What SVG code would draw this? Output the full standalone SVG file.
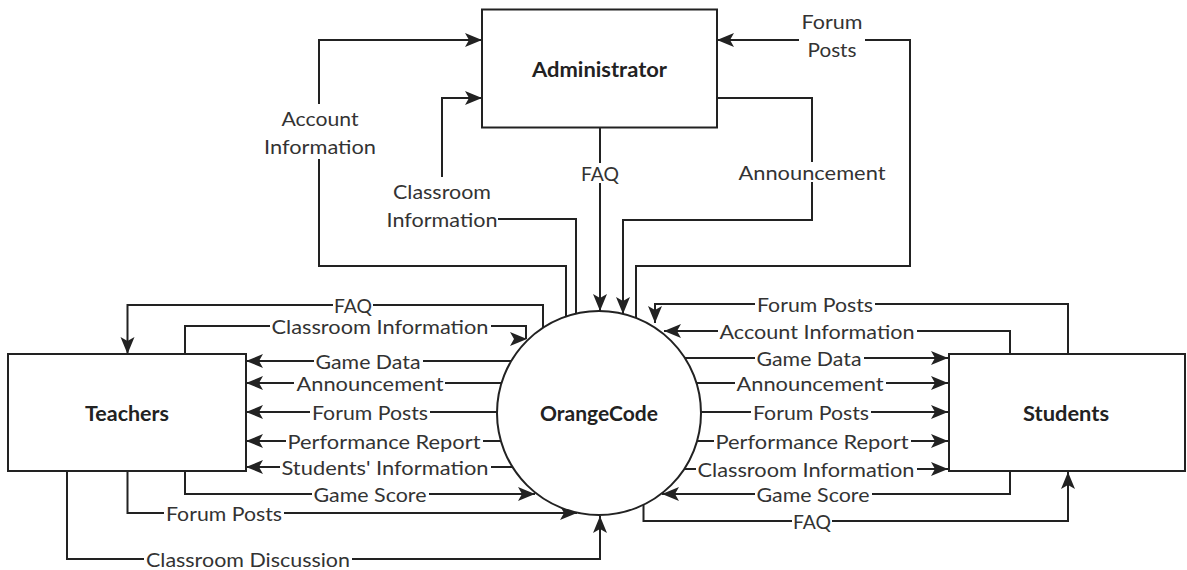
<svg xmlns="http://www.w3.org/2000/svg" xmlns:xlink="http://www.w3.org/1999/xlink" width="1187" height="570" viewBox="0 0 1187 570">
  <style>
    .box { fill: #ffffff; stroke: #222222; stroke-width: 2; }
    .node-label { font-family: Lato, "Liberation Sans", sans-serif; font-size: 20px; font-weight: bold; fill: #222222; text-anchor: middle; dominant-baseline: central; }
    .flow { fill: none; stroke: #222222; stroke-width: 2; marker-end: url(#arrow); }
    .flow-plain { fill: none; stroke: #222222; stroke-width: 2; }
    .lbl-bg { fill: #ffffff; }
    .lbl { font-family: Lato, "Liberation Sans", sans-serif; font-size: 19px; fill: #333333; text-anchor: middle; dominant-baseline: central; }
  </style>
  <defs>
    <marker id="arrow" markerUnits="userSpaceOnUse" markerWidth="18" markerHeight="16" viewBox="0 0 18 16" refX="17" refY="8" orient="auto">
      <path d="M0,1 L17,8 L0,15 L4,8 Z" fill="#222222"/>
    </marker>
    <path id="arrowhead" d="M0,0 L-17,-7 L-13,0 L-17,7 Z" fill="#222222"/>
  </defs>

  <rect width="1187" height="570" fill="#ffffff"/>

  <!-- data flows -->
  <g id="connectors">
    <!-- OrangeCode <-> Administrator -->
    <path class="flow" d="M566,317 V266 H319 V40 H482"/>
    <path class="flow" d="M576,314 V219 H442 V98 H482"/>
    <path class="flow" d="M600,128 V311"/>
    <path class="flow" d="M717,98 H812 V220 H623 V314"/>
    <path class="flow" d="M636,318 V266 H910 V40 H717"/>

    <!-- OrangeCode <-> Teachers -->
    <path class="flow" d="M543,328 V305 H127.5 V354"/>
    <path class="flow-plain" d="M185,354 V326 H526 V339"/>
    <use xlink:href="#arrowhead" transform="translate(527,339)"/>
    <path class="flow" d="M511,361 H246"/>
    <path class="flow" d="M501,383 H246"/>
    <path class="flow" d="M497,412 H246"/>
    <path class="flow" d="M501,441 H246"/>
    <path class="flow" d="M512,467 H246"/>
    <path class="flow" d="M185,471 V494 H535"/>
    <path class="flow" d="M127.5,471 V513 H577"/>
    <path class="flow" d="M67,471 V559 H600 V516"/>

    <!-- OrangeCode <-> Students -->
    <path class="flow" d="M1068,354 V304 H655 V323"/>
    <path class="flow" d="M1010,354 V331 H664"/>
    <path class="flow" d="M685,358 H948"/>
    <path class="flow" d="M696,383 H948"/>
    <path class="flow" d="M701,412 H948"/>
    <path class="flow" d="M697,441 H948"/>
    <path class="flow" d="M684,469 H948"/>
    <path class="flow" d="M1010,471 V494 H662"/>
    <path class="flow" d="M643.5,505 V521 H1068 V472"/>

    <!-- flow labels -->
    <g id="flow-labels">
      <rect class="lbl-bg" x="262" y="104" width="116" height="55"/>
      <text class="lbl" x="320" y="118" textLength="77" lengthAdjust="spacingAndGlyphs">Account</text>
      <text class="lbl" x="320" y="146" textLength="112" lengthAdjust="spacingAndGlyphs">Information</text>

      <rect class="lbl-bg" x="386" y="177" width="112" height="55"/>
      <text class="lbl" x="442" y="191" textLength="98" lengthAdjust="spacingAndGlyphs">Classroom</text>
      <text class="lbl" x="442" y="219" textLength="111" lengthAdjust="spacingAndGlyphs">Information</text>

      <rect class="lbl-bg" x="580" y="163" width="40" height="20"/>
      <text class="lbl" x="600" y="173" textLength="38" lengthAdjust="spacingAndGlyphs">FAQ</text>

      <rect class="lbl-bg" x="737" y="162" width="151" height="20"/>
      <text class="lbl" x="812" y="172" textLength="147" lengthAdjust="spacingAndGlyphs">Announcement</text>

      <rect class="lbl-bg" x="799" y="9" width="66" height="53"/>
      <text class="lbl" x="832" y="21" textLength="61" lengthAdjust="spacingAndGlyphs">Forum</text>
      <text class="lbl" x="832" y="49" textLength="49" lengthAdjust="spacingAndGlyphs">Posts</text>

      <!-- Teachers side -->
      <rect class="lbl-bg" x="333" y="296" width="40" height="18"/>
      <text class="lbl" x="353" y="305" textLength="38" lengthAdjust="spacingAndGlyphs">FAQ</text>
      <rect class="lbl-bg" x="270" y="317" width="221" height="18"/>
      <text class="lbl" x="380" y="326" textLength="217" lengthAdjust="spacingAndGlyphs">Classroom Information</text>
      <rect class="lbl-bg" x="314" y="352" width="109" height="18"/>
      <text class="lbl" x="368" y="361" textLength="105" lengthAdjust="spacingAndGlyphs">Game Data</text>
      <rect class="lbl-bg" x="294" y="374" width="151" height="18"/>
      <text class="lbl" x="370" y="383" textLength="147" lengthAdjust="spacingAndGlyphs">Announcement</text>
      <rect class="lbl-bg" x="310" y="403" width="120" height="18"/>
      <text class="lbl" x="370" y="412" textLength="116" lengthAdjust="spacingAndGlyphs">Forum Posts</text>
      <rect class="lbl-bg" x="286" y="432" width="197" height="18"/>
      <text class="lbl" x="384" y="441" textLength="193" lengthAdjust="spacingAndGlyphs">Performance Report</text>
      <rect class="lbl-bg" x="280" y="458" width="211" height="18"/>
      <text class="lbl" x="385" y="467" textLength="207" lengthAdjust="spacingAndGlyphs">Students' Information</text>
      <rect class="lbl-bg" x="312" y="485" width="117" height="18"/>
      <text class="lbl" x="370" y="494" textLength="113" lengthAdjust="spacingAndGlyphs">Game Score</text>
      <rect class="lbl-bg" x="164" y="504" width="120" height="18"/>
      <text class="lbl" x="224" y="513" textLength="116" lengthAdjust="spacingAndGlyphs">Forum Posts</text>
      <rect class="lbl-bg" x="144" y="550" width="208" height="18"/>
      <text class="lbl" x="248" y="559" textLength="204" lengthAdjust="spacingAndGlyphs">Classroom Discussion</text>

      <!-- Students side -->
      <rect class="lbl-bg" x="755" y="295" width="120" height="18"/>
      <text class="lbl" x="815" y="304" textLength="116" lengthAdjust="spacingAndGlyphs">Forum Posts</text>
      <rect class="lbl-bg" x="718" y="322" width="199" height="18"/>
      <text class="lbl" x="817" y="331" textLength="195" lengthAdjust="spacingAndGlyphs">Account Information</text>
      <rect class="lbl-bg" x="755" y="349" width="109" height="18"/>
      <text class="lbl" x="809" y="358" textLength="105" lengthAdjust="spacingAndGlyphs">Game Data</text>
      <rect class="lbl-bg" x="735" y="374" width="151" height="18"/>
      <text class="lbl" x="810" y="383" textLength="147" lengthAdjust="spacingAndGlyphs">Announcement</text>
      <rect class="lbl-bg" x="751" y="403" width="120" height="18"/>
      <text class="lbl" x="811" y="412" textLength="116" lengthAdjust="spacingAndGlyphs">Forum Posts</text>
      <rect class="lbl-bg" x="714" y="432" width="197" height="18"/>
      <text class="lbl" x="812" y="441" textLength="193" lengthAdjust="spacingAndGlyphs">Performance Report</text>
      <rect class="lbl-bg" x="696" y="460" width="221" height="18"/>
      <text class="lbl" x="806" y="469" textLength="217" lengthAdjust="spacingAndGlyphs">Classroom Information</text>
      <rect class="lbl-bg" x="755" y="485" width="117" height="18"/>
      <text class="lbl" x="813" y="494" textLength="113" lengthAdjust="spacingAndGlyphs">Game Score</text>
      <rect class="lbl-bg" x="792" y="512" width="40" height="18"/>
      <text class="lbl" x="812" y="521" textLength="38" lengthAdjust="spacingAndGlyphs">FAQ</text>
    </g>
  </g>

  <!-- external entities and the central process -->
  <g id="administrator">
    <rect class="box" x="482" y="9.5" width="235" height="118"/>
    <text class="node-label" x="599.5" y="69" textLength="135" lengthAdjust="spacingAndGlyphs">Administrator</text>
  </g>
  <g id="teachers">
    <rect class="box" x="8" y="354" width="238" height="117"/>
    <text class="node-label" x="127" y="413" textLength="84" lengthAdjust="spacingAndGlyphs">Teachers</text>
  </g>
  <g id="students">
    <rect class="box" x="949" y="354" width="236" height="117"/>
    <text class="node-label" x="1066" y="413" textLength="86" lengthAdjust="spacingAndGlyphs">Students</text>
  </g>
  <g id="orangecode">
    <circle class="box" cx="599" cy="413" r="102"/>
    <text class="node-label" x="599" y="413" textLength="118" lengthAdjust="spacingAndGlyphs">OrangeCode</text>
  </g>
</svg>
